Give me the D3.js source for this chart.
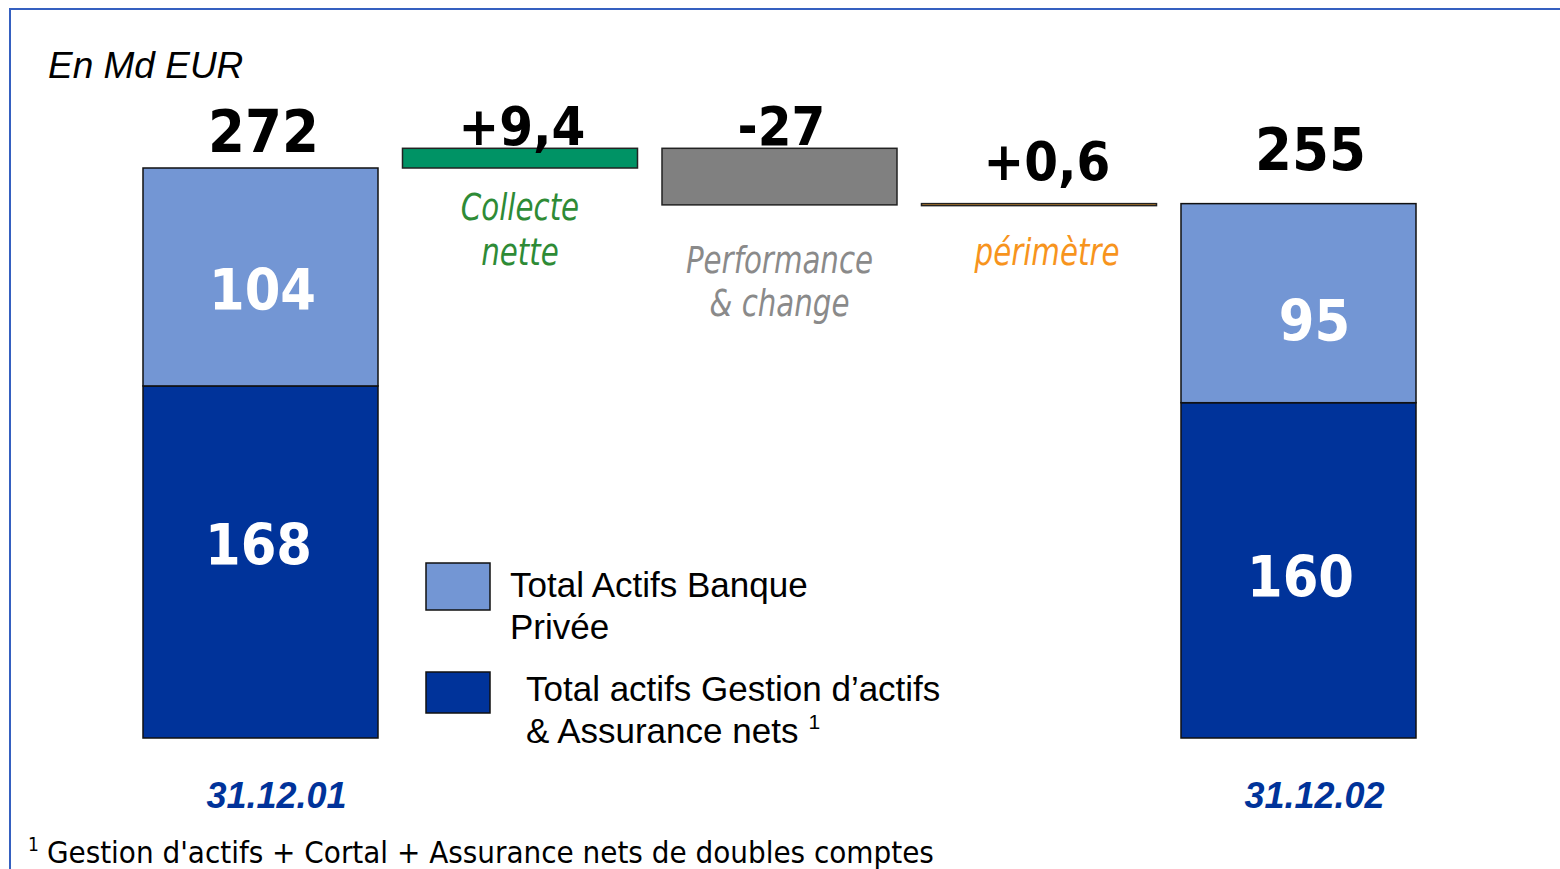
<!DOCTYPE html>
<html>
<head>
<meta charset="utf-8">
<script src="https://cdn.jsdelivr.net/npm/d3@7"></script>
<style>
  html, body { margin: 0; padding: 0; background: #fff; }
  svg { display: block; }
</style>
</head>
<body>
<div id="chart-container"></div>
<script>
// data
const categories = ["31.12.01", "Collecte nette", "Performance & change", "périmètre", "31.12.02"];
const gestionValues = [168, 160];   // dark part of the two total bars
const banqueValues = [104, 95];     // light part of the two total bars
const totalLabels = ["272", "255"];
const deltaValues = [9.4, -27, 0.6];
const deltaLabels = ["+9,4", "-27", "+0,6"];
const deltaNames = [["Collecte", "nette"], ["Performance", "& change"], ["périmètre"]];
const legendLabels = [["Total Actifs Banque", "Privée"], ["Total actifs Gestion d\u2019actifs", "& Assurance nets"]];

const width = 1560, height = 869;
const lightBlue = "#7396d4", darkBlue = "#00339a";
const deltaFill = ["#009365", "#808080", "#f4a12c"];
const deltaText = ["#2e8b36", "#8a8a8a", "#f7941d"];

const svg = d3.select("#chart-container").append("svg")
  .attr("width", width).attr("height", height);

// frame
svg.append("path")
  .attr("d", `M10,${height} V9 H${width}`)
  .attr("fill", "none").attr("stroke", "#3560c0").attr("stroke-width", 2);

const x = d3.scaleBand().domain(categories)
  .range([130.75, 1428.25]).paddingInner(0.0944).paddingOuter(0.0472);
const y = d3.scaleLinear().domain([0, 272]).range([738, 168]);

// title
svg.append("text").attr("x", 48).attr("y", 78)
  .attr("font-family", "Liberation Sans, Arial, sans-serif")
  .attr("font-style", "italic").attr("font-size", 37)
  .text("En Md EUR");

// total bars (first and last category)
const totals = [
  { cat: categories[0], g: gestionValues[0], b: banqueValues[0], label: totalLabels[0] },
  { cat: categories[4], g: gestionValues[1], b: banqueValues[1], label: totalLabels[1] }
];

const numFont = "DejaVu Sans Condensed, DejaVu Sans, sans-serif";

totals.forEach((d, i) => {
  const g = svg.append("g");
  g.append("rect")
    .attr("x", x(d.cat)).attr("width", x.bandwidth())
    .attr("y", y(d.g)).attr("height", y(0) - y(d.g))
    .attr("fill", darkBlue).attr("stroke", "#111").attr("stroke-width", 1.5);
  g.append("rect")
    .attr("x", x(d.cat)).attr("width", x.bandwidth())
    .attr("y", y(d.g + d.b)).attr("height", y(d.g) - y(d.g + d.b))
    .attr("fill", lightBlue).attr("stroke", "#111").attr("stroke-width", 1.5);

  const cx = x(d.cat) + x.bandwidth() / 2;
  // inner values
  g.append("text").attr("x", cx + (i ? 16 : 2)).attr("y", (y(d.g) + y(d.g + d.b)) / 2 + (i ? 38 : 33))
    .attr("text-anchor", "middle").attr("fill", "#fff")
    .attr("font-family", numFont).attr("font-weight", "bold").attr("font-size", 57)
    .text(d.b);
  g.append("text").attr("x", cx + (i ? 2 : -2)).attr("y", (y(0) + y(d.g)) / 2 + (i ? 27 : 3))
    .attr("text-anchor", "middle").attr("fill", "#fff")
    .attr("font-family", numFont).attr("font-weight", "bold").attr("font-size", 57)
    .text(d.g);
  // total on top
  g.append("text").attr("x", cx + (i ? 12 : 3)).attr("y", y(d.g + d.b) - (i ? 34 : 16))
    .attr("text-anchor", "middle").attr("fill", "#000")
    .attr("font-family", numFont).attr("font-weight", "bold").attr("font-size", 59)
    .text(d.label);
  // date
  g.append("text").attr("x", cx + 16).attr("y", 808)
    .attr("text-anchor", "middle").attr("fill", darkBlue)
    .attr("font-family", "Liberation Sans, Arial, sans-serif")
    .attr("font-weight", "bold").attr("font-style", "italic").attr("font-size", 36)
    .text(d.cat);
});

// delta bars
let running = gestionValues[0] + banqueValues[0];
const labelGap = [3, 3, 24];
const nameY = [[220, 265], [273, 316], [265]];
deltaValues.forEach((v, i) => {
  const cat = categories[i + 1];
  const from = running, to = running + v;
  running = to;
  const top = y(Math.max(from, to)), bottom = y(Math.min(from, to));
  const cx = x(cat) + x.bandwidth() / 2;
  svg.append("rect")
    .attr("x", x(cat)).attr("width", x.bandwidth())
    .attr("y", top).attr("height", Math.max(bottom - top, 2))
    .attr("fill", deltaFill[i]).attr("stroke", "#222").attr("stroke-width", 1.5);
  svg.append("text").attr("x", cx + (i === 2 ? 8 : 2)).attr("y", top - labelGap[i])
    .attr("text-anchor", "middle").attr("fill", "#000")
    .attr("font-family", numFont).attr("font-weight", "bold").attr("font-size", 54)
    .text(deltaLabels[i]);
  deltaNames[i].forEach((line, j) => {
    svg.append("text")
      .attr("transform", `translate(${cx + (i === 2 ? 8 : 0)},${nameY[i][j]}) scale(0.88,1)`)
      .attr("text-anchor", "middle").attr("fill", deltaText[i])
      .attr("font-family", "DejaVu Sans Condensed, sans-serif")
      .attr("font-style", "italic").attr("font-size", 37)
      .text(line);
  });
});

// legend
const legend = svg.append("g").attr("font-family", "Liberation Sans, Arial, sans-serif").attr("font-size", 35);
const legendRows = [
  { fill: lightBlue, boxY: 563, boxH: 47, textX: 510, lines: legendLabels[0], y0: 597 },
  { fill: darkBlue, boxY: 672, boxH: 41, textX: 526, lines: legendLabels[1], y0: 701 }
];
legendRows.forEach((r, i) => {
  legend.append("rect").attr("x", 426).attr("y", r.boxY).attr("width", 64).attr("height", r.boxH)
    .attr("fill", r.fill).attr("stroke", "#111").attr("stroke-width", 1.5);
  r.lines.forEach((line, j) => {
    const t = legend.append("text").attr("x", r.textX).attr("y", r.y0 + j * 42).text(line);
    if (i === 1 && j === 1) {
      t.append("tspan").attr("dx", 10).attr("dy", -14).attr("font-size", 21).text("1");
    }
  });
});

// footnote
const foot = svg.append("text").attr("x", 28).attr("y", 863)
  .attr("font-family", "DejaVu Sans Condensed, DejaVu Sans, sans-serif").attr("font-size", 31);
foot.append("tspan").attr("font-size", 19).attr("dy", -12).text("1");
foot.append("tspan").attr("dx", 8).attr("dy", 12).text("Gestion d'actifs + Cortal + Assurance nets de doubles comptes");
</script>
</body>
</html>
